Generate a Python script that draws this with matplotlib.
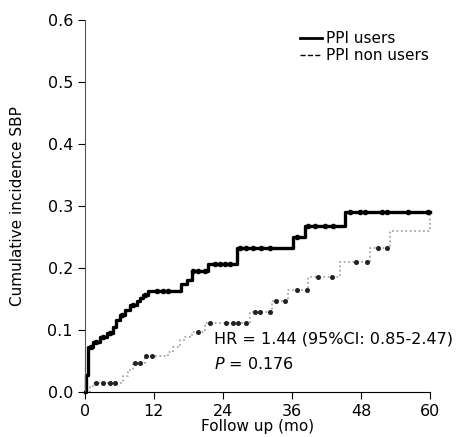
import matplotlib
matplotlib.use("Agg")
import matplotlib.pyplot as plt
import numpy as np
from matplotlib.lines import Line2D

# step curves (time in months, cumulative incidence)
users_t = [0, 0.17, 0.6, 1.45, 2.6, 3.8, 4.9, 5.5, 6.1, 7.0, 7.8, 9.0, 9.6, 10.1, 11.0,
           16.8, 17.7, 18.6, 21.4, 26.4, 36.2, 38.3, 45.2, 60]
users_v = [0, 0.027, 0.073, 0.081, 0.089, 0.095, 0.105, 0.116, 0.124, 0.132, 0.140, 0.146,
           0.151, 0.156, 0.163, 0.175, 0.180, 0.195, 0.207, 0.232, 0.250, 0.268, 0.290, 0.290]
users_cens = [1.0, 2.0, 3.2, 4.4, 6.5, 8.3, 10.5, 12.5, 13.6, 14.5, 18.8, 19.7, 20.9, 22.6,
              23.5, 24.3, 25.2, 27.0, 28.1, 29.2, 30.7, 32.2, 36.8, 38.8, 40.0, 41.7, 43.1,
              46.1, 47.8, 48.7, 51.6, 52.5, 56.2, 59.7]

non_t = [0, 0.9, 1.5, 6.7, 7.5, 8.4, 10.4, 14.5, 15.4, 16.5, 17.4, 18.6, 20.9, 28.7, 32.5,
         35.3, 38.8, 44.3, 49.6, 53.0, 60]
non_v = [0, 0.008, 0.015, 0.025, 0.035, 0.047, 0.058, 0.065, 0.073, 0.084, 0.089, 0.097,
         0.111, 0.129, 0.146, 0.165, 0.186, 0.210, 0.233, 0.260, 0.290]
non_cens = [2.0, 3.2, 4.3, 5.2, 8.7, 9.6, 10.7, 11.6, 19.6, 21.7, 24.6, 25.8, 26.6, 28.1,
            29.6, 30.4, 32.2, 33.3, 34.8, 36.8, 38.6, 40.6, 42.9, 47.2, 49.0, 51.0, 52.5]

def step_at(t, v, x):
    idx = np.searchsorted(t, x, side="right") - 1
    return np.array(v)[idx]

fig = plt.figure(figsize=(4.71, 4.37), dpi=100)
ax = fig.add_axes([0.180, 0.103, 0.733, 0.851])

ax.step(non_t, non_v, where="post", color="#999999", lw=1.2, ls=":", clip_on=False)
ax.plot(non_cens, step_at(non_t, non_v, non_cens), "o", color="#222222", ms=2.6, ls="none")
ax.step(users_t, users_v, where="post", color="black", lw=2.4, clip_on=False)
ax.plot(users_cens, step_at(users_t, users_v, users_cens), "o", color="black", ms=3, ls="none")

ax.set_xlim(0, 60)
ax.set_ylim(0, 0.6)
ax.set_xticks([0, 12, 24, 36, 48, 60])
ax.set_yticks([0.0, 0.1, 0.2, 0.3, 0.4, 0.5, 0.6])
ax.set_yticklabels(["0.0", "0.1", "0.2", "0.3", "0.4", "0.5", "0.6"])
ax.tick_params(labelsize=11.5, length=5, direction="out")
for s in ["top", "right"]:
    ax.spines[s].set_visible(False)
ax.spines["left"].set_color("#555555")
ax.set_xlabel("Follow up (mo)", fontsize=11, labelpad=0)
ax.set_ylabel("Cumulative incidence SBP", fontsize=11, labelpad=16)

ax.text(22.5, 0.085, "HR = 1.44 (95%CI: 0.85-2.47)", fontsize=11.5, va="center")
ax.text(22.5, 0.045, r"$\it{P}$ = 0.176", fontsize=11.5, va="center")

handles = [Line2D([], [], color="black", lw=2),
           Line2D([], [], color="black", lw=1, ls="--")]
ax.legend(handles, ["PPI users", "PPI non users"], loc="upper left",
          bbox_to_anchor=(0.6, 0.99), frameon=False, fontsize=11,
          handlelength=1.5, handletextpad=0.2, labelspacing=0.1, borderpad=0)

fig.savefig("out.png", dpi=100)
